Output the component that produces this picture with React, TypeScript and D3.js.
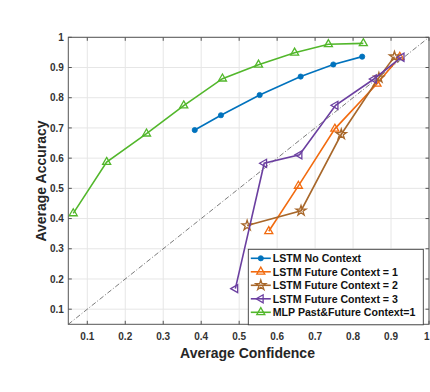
import React from "react";
import * as d3 from "d3";

// values
const noContextX = [0.383, 0.452, 0.554, 0.662, 0.748, 0.824];
const noContextY = [0.693, 0.742, 0.809, 0.87, 0.91, 0.936];

const future1X = [0.578, 0.656, 0.752, 0.863, 0.923];
const future1Y = [0.358, 0.508, 0.697, 0.846, 0.935];

const future2X = [0.521, 0.663, 0.769, 0.868, 0.909];
const future2Y = [0.377, 0.426, 0.679, 0.866, 0.936];

const future3X = [0.49, 0.566, 0.659, 0.754, 0.855, 0.928];
const future3Y = [0.168, 0.583, 0.611, 0.775, 0.862, 0.934];

const mlpX = [0.063, 0.151, 0.256, 0.354, 0.456, 0.551, 0.646, 0.735, 0.827];
const mlpY = [0.417, 0.587, 0.681, 0.774, 0.863, 0.909, 0.949, 0.977, 0.98];

const tickValues = [0.1, 0.2, 0.3, 0.4, 0.5, 0.6, 0.7, 0.8, 0.9, 1];

const seriesNames = [
  "LSTM No Context",
  "LSTM Future Context = 1",
  "LSTM Future Context = 2",
  "LSTM Future Context = 3",
  "MLP Past&Future Context=1",
];

const W = 430;
const H = 392;
const left = 68.3;
const right = 429;
const top = 37.3;
const bottom = 324.3;
const FONT = "'Liberation Sans', Arial, Helvetica, sans-serif";

type Series = {
  name: string;
  xs: number[];
  ys: number[];
  color: string;
  marker: "dot" | "tri" | "star" | "left";
};

const series: Series[] = [
  { name: seriesNames[0], xs: noContextX, ys: noContextY, color: "#0072BD", marker: "dot" },
  { name: seriesNames[1], xs: future1X, ys: future1Y, color: "#F26B0F", marker: "tri" },
  { name: seriesNames[2], xs: future2X, ys: future2Y, color: "#A8672A", marker: "star" },
  { name: seriesNames[3], xs: future3X, ys: future3Y, color: "#6B3FA0", marker: "left" },
  { name: seriesNames[4], xs: mlpX, ys: mlpY, color: "#52B72B", marker: "tri" },
];

function Marker({ kind, color, x, y }: { kind: string; color: string; x: number; y: number }) {
  if (kind === "dot") {
    return <circle cx={x} cy={y} r={2.6} fill={color} stroke={color} strokeWidth={0.8} />;
  }
  let path = "";
  let rot = 0;
  if (kind === "tri" || kind === "left") {
    path = d3.symbol().type(d3.symbolTriangle).size(28)() || "";
    rot = kind === "left" ? -90 : 0;
  } else {
    path = d3.symbol().type(d3.symbolStar).size(32)() || "";
  }
  return (
    <path
      d={path}
      transform={`translate(${x},${y}) rotate(${rot})`}
      fill="none"
      stroke={color}
      strokeWidth={1.3}
    />
  );
}

export default function App() {
  const xScale = d3.scaleLinear().domain([0.05, 1]).range([left, right]);
  const yScale = d3.scaleLinear().domain([0.05, 1]).range([bottom, top]);
  const fmt = (t: number) => String(+t.toFixed(1));

  const lineGen = d3
    .line<[number, number]>()
    .x((d) => xScale(d[0]))
    .y((d) => yScale(d[1]));

  const legX = 248.3;
  const legY = 249.3;
  const legW = 175;
  const legH = 75.5;
  const rowH = 13.5;

  return (
    <div style={{ position: "absolute", left: 0, top: 0 }}>
      <svg width={W} height={H} style={{ display: "block", background: "#fff" }}>
        {/* grid */}
        <g stroke="#e6e6e6" strokeWidth={1}>
          {tickValues.map((t) => (
            <line key={"gx" + t} x1={xScale(t)} x2={xScale(t)} y1={top} y2={bottom} />
          ))}
          {tickValues.map((t) => (
            <line key={"gy" + t} x1={left} x2={right} y1={yScale(t)} y2={yScale(t)} />
          ))}
        </g>

        {/* diagonal reference */}
        <line
          x1={xScale(0.05)}
          y1={yScale(0.05)}
          x2={xScale(1)}
          y2={yScale(1)}
          stroke="#222"
          strokeWidth={0.6}
          strokeDasharray="5 2 1 2"
        />

        {/* series */}
        {series.map((s) => {
          const pts = s.xs.map((x, i) => [x, s.ys[i]] as [number, number]);
          return (
            <g key={s.name}>
              <path d={lineGen(pts) || ""} fill="none" stroke={s.color} strokeWidth={1.6} />
              {pts.map((p, i) => (
                <Marker key={i} kind={s.marker} color={s.color} x={xScale(p[0])} y={yScale(p[1])} />
              ))}
            </g>
          );
        })}

        {/* axes box */}
        <rect x={left} y={top} width={right - left} height={bottom - top} fill="none" stroke="#555" strokeWidth={1} />
        <g stroke="#555" strokeWidth={1}>
          {tickValues.map((t) => (
            <g key={"tk" + t}>
              <line x1={xScale(t)} x2={xScale(t)} y1={bottom} y2={bottom - 3.5} />
              <line x1={xScale(t)} x2={xScale(t)} y1={top} y2={top + 3.5} />
              <line x1={left} x2={left + 3.5} y1={yScale(t)} y2={yScale(t)} />
              <line x1={right} x2={right - 3.5} y1={yScale(t)} y2={yScale(t)} />
            </g>
          ))}
        </g>

        {/* tick labels */}
        <g fontFamily={FONT} fontSize={10} fontWeight="bold" fill="#333">
          {tickValues.map((t, i) => (
            <text
              key={"xl" + t}
              x={i === tickValues.length - 1 ? W - 0.5 : xScale(t)}
              y={bottom + 16}
              textAnchor={i === tickValues.length - 1 ? "end" : "middle"}
            >
              {fmt(t)}
            </text>
          ))}
          {tickValues.map((t) => (
            <text key={"yl" + t} x={left - 4.5} y={yScale(t) + 3.6} textAnchor="end">
              {fmt(t)}
            </text>
          ))}
        </g>

        {/* axis titles */}
        <text x={247.5} y={358} textAnchor="middle" fontFamily={FONT} fontSize={14} fontWeight="bold" fill="#262626">
          Average Confidence
        </text>
        <text
          transform={`translate(46,181) rotate(-90)`}
          textAnchor="middle"
          fontFamily={FONT}
          fontSize={14}
          fontWeight="bold"
          fill="#262626"
        >
          Average Accuracy
        </text>

        {/* legend */}
        <rect x={legX} y={legY} width={legW} height={legH} fill="#fff" stroke="#3a3a3a" strokeWidth={0.9} />
        {series.map((s, i) => {
          const cy = legY + 9 + i * rowH;
          return (
            <g key={"lg" + s.name}>
              <line x1={legX + 2.5} x2={legX + 22.5} y1={cy} y2={cy} stroke={s.color} strokeWidth={1.6} />
              <Marker kind={s.marker} color={s.color} x={legX + 12.5} y={cy} />
              <text x={legX + 24.5} y={cy + 3.8} fontFamily={FONT} fontSize={10.6} fontWeight="bold" fill="#111">
                {s.name}
              </text>
            </g>
          );
        })}
      </svg>
    </div>
  );
}
